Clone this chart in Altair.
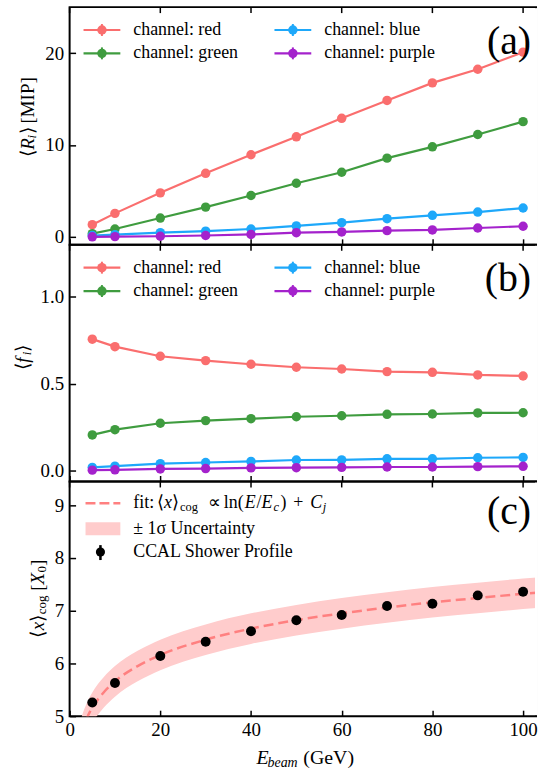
import altair as alt
import pandas as pd

# ---------------- data ----------------
E = [5, 10, 20, 30, 40, 50, 60, 70, 80, 90, 100]
channels = ["red", "green", "blue", "purple"]
channel_colors = ["#fa6e6e", "#3f9c3f", "#1ea8fa", "#a422cc"]

R_red = [1.33, 2.56, 4.79, 6.92, 8.94, 10.89, 12.90, 14.85, 16.76, 18.24, 20.10]
R_green = [0.35, 0.86, 2.05, 3.24, 4.50, 5.84, 7.03, 8.57, 9.80, 11.14, 12.54]
R_blue = [0.15, 0.25, 0.46, 0.62, 0.86, 1.19, 1.55, 1.98, 2.35, 2.70, 3.14]
R_purple = [0.01, 0.03, 0.07, 0.15, 0.27, 0.46, 0.54, 0.68, 0.76, 0.97, 1.16]

f_red = [0.756, 0.713, 0.658, 0.633, 0.612, 0.595, 0.585, 0.570, 0.566, 0.551, 0.545]
f_green = [0.207, 0.237, 0.274, 0.289, 0.300, 0.311, 0.317, 0.325, 0.327, 0.333, 0.334]
f_blue = [0.021, 0.028, 0.042, 0.049, 0.055, 0.063, 0.064, 0.070, 0.070, 0.076, 0.078]
f_purple = [0.005, 0.007, 0.012, 0.014, 0.018, 0.019, 0.021, 0.023, 0.023, 0.025, 0.027]

ccal = [5.26, 5.63, 6.14, 6.41, 6.61, 6.82, 6.92, 7.09, 7.13, 7.29, 7.36]

fit_E = [2.5, 3, 4, 5, 7.5, 10, 15, 20, 30, 40, 50, 60, 70, 80, 90, 100, 103]
fit_mid = [4.66, 4.79, 5.00, 5.16, 5.45, 5.66, 5.95, 6.16, 6.45, 6.66, 6.82, 6.95, 7.06, 7.16, 7.24, 7.32, 7.34]
fit_hi = [4.95, 5.08, 5.29, 5.45, 5.74, 5.95, 6.24, 6.45, 6.74, 6.95, 7.11, 7.24, 7.35, 7.45, 7.53, 7.61, 7.63]
fit_lo = [4.37, 4.50, 4.71, 4.87, 5.16, 5.37, 5.66, 5.87, 6.16, 6.37, 6.53, 6.66, 6.77, 6.87, 6.95, 7.03, 7.05]

x_ticks = [0, 20, 40, 60, 80, 100]
ya_ticks = [0, 10, 20]
yb_ticks = [0.0, 0.5, 1.0]
yc_ticks = [5, 6, 7, 8, 9]

# ---------------- styling ----------------
FONT = "Liberation Serif"
W = 469
H_A, H_B, H_C = 239, 238, 236
FIT_COLOR = "#ff8080"
BAND_COLOR = "#ffcccc"
LEG = 18
TICK = dict(ticks=True, tickSize=6, offset=-6, tickColor="black", tickWidth=1.5, domain=False,
            grid=False, labelFlush=False)

xs = alt.Scale(domain=[0, 102.85], nice=False, zero=False)
ysa = alt.Scale(domain=[-0.86, 25.0], nice=False, zero=False)
ysb = alt.Scale(domain=[-0.06, 1.297], nice=False, zero=False)
ysc = alt.Scale(domain=[5.0, 9.45], nice=False, zero=False)

color = alt.Color("channel:N", scale=alt.Scale(domain=channels, range=channel_colors), legend=None)


def one(label=""):
    return alt.Chart(pd.DataFrame({"s": [label]}))


def txt(s, x, y, size=19, style="normal", align="left", angle=0, baseline="middle"):
    return one(s).mark_text(align=align, baseline=baseline, font=FONT, fontSize=size,
                            fontStyle=style, angle=angle, color="black").encode(
        x=alt.value(x), y=alt.value(y), text="s:N")


def xaxis_bottom(labels):
    if labels:
        return alt.Axis(orient="bottom", values=x_ticks, format="d", title=None, labelPadding=4, **TICK)
    return alt.Axis(orient="bottom", values=x_ticks, labels=False, title=None, **TICK)


def yaxis(vals, fmt):
    return alt.Axis(orient="left", values=vals, format=fmt, title=None, labelPadding=6, **TICK)


def frame_extras(h):
    top_ticks = alt.Chart(pd.DataFrame({"t": x_ticks})).mark_rule(color="black", strokeWidth=1.5).encode(
        x=alt.X("t:Q", scale=xs), y=alt.value(0), y2=alt.value(6))
    cover = one().mark_rule(color="white", strokeWidth=2).encode(
        x=alt.value(W), y=alt.value(1), y2=alt.value(h - 1))
    return [top_ticks, cover]


# invisible layout anchor: fixes the plot origin at (69, 4) of the page
anchor = one().mark_rule(strokeWidth=0, opacity=0, color="white").encode(
    x=alt.value(-69), x2=alt.value(-60), y=alt.value(-4))


def legend_entry(label, col, x0, y):
    base = one(label)
    line = base.mark_rule(color=col, strokeWidth=2.2).encode(x=alt.value(x0), x2=alt.value(x0 + 37), y=alt.value(y))
    err = base.mark_rule(color=col, strokeWidth=2).encode(x=alt.value(x0 + 18.5), y=alt.value(y - 6), y2=alt.value(y + 6))
    dot = base.mark_circle(color=col, size=90, opacity=1).encode(x=alt.value(x0 + 18.5), y=alt.value(y))
    t = base.mark_text(align="left", baseline="middle", font=FONT, fontSize=LEG, color="black").encode(
        x=alt.value(x0 + 50), y=alt.value(y), text="s:N")
    return [line, err, dot, t]


def channel_legend():
    layers = []
    pos = [(14, 23), (14, 46.5), (206, 23), (206, 46.5)]
    for ch, c, (x0, y) in zip(channels, channel_colors, pos):
        layers += legend_entry("channel: " + ch, c, x0, y)
    return layers


def long_df(series, name):
    rows = []
    for ch, vals in zip(channels, series):
        for e, v in zip(E, vals):
            rows.append({"E": e, "channel": ch, name: v})
    return pd.DataFrame(rows)


# ---------------- panel (a) ----------------
dfa = long_df([R_red, R_green, R_blue, R_purple], "R")
lines_a = alt.Chart(dfa).mark_line(strokeWidth=2.2).encode(
    x=alt.X("E:Q", scale=xs, axis=xaxis_bottom(False)),
    y=alt.Y("R:Q", scale=ysa, axis=yaxis(ya_ticks, "d")),
    color=color)
pts_a = alt.Chart(dfa).mark_circle(size=90, opacity=1).encode(
    x=alt.X("E:Q", scale=xs), y=alt.Y("R:Q", scale=ysa), color=color)
title_a = [
    txt("⟨", -42, 151, angle=270),
    txt("R", -42, 143.5, style="italic", angle=270),
    txt("i", -38, 132, size=13, style="italic", angle=270),
    txt("⟩", -42, 128, angle=270),
    txt("[MIP]", -42, 117, angle=270),
]
panel_a = alt.layer(lines_a, pts_a, *frame_extras(H_A), anchor, *channel_legend(), *title_a,
                    txt("(a)", 464, 35, size=40, align="right")).properties(width=W, height=H_A)

# ---------------- panel (b) ----------------
dfb = long_df([f_red, f_green, f_blue, f_purple], "f")
lines_b = alt.Chart(dfb).mark_line(strokeWidth=2.2).encode(
    x=alt.X("E:Q", scale=xs, axis=xaxis_bottom(False)),
    y=alt.Y("f:Q", scale=ysb, axis=yaxis(yb_ticks, ".1f")),
    color=color)
pts_b = alt.Chart(dfb).mark_circle(size=90, opacity=1).encode(
    x=alt.X("E:Q", scale=xs), y=alt.Y("f:Q", scale=ysb), color=color)
title_b = [
    txt("⟨", -47, 126, angle=270),
    txt("f", -47, 118.5, style="italic", angle=270),
    txt("i", -43, 111, size=13, style="italic", angle=270),
    txt("⟩", -47, 107.5, angle=270),
]
panel_b = alt.layer(lines_b, pts_b, *frame_extras(H_B), *channel_legend(), *title_b,
                    txt("(b)", 464, 34, size=40, align="right")).properties(width=W, height=H_B)

# ---------------- panel (c) ----------------
dff = pd.DataFrame({"E": fit_E, "mid": fit_mid, "hi": fit_hi, "lo": fit_lo})
dfc = pd.DataFrame({"E": E, "x": ccal})
band = alt.Chart(dff).mark_area(color=BAND_COLOR, opacity=1, clip=True, interpolate="monotone").encode(
    x=alt.X("E:Q", scale=xs, axis=xaxis_bottom(True)),
    y=alt.Y("lo:Q", scale=ysc, axis=yaxis(yc_ticks, "d")),
    y2="hi:Q")
fit_line = alt.Chart(dff).mark_line(color=FIT_COLOR, strokeWidth=2.5, strokeDash=[10, 5], clip=True,
                                    interpolate="monotone").encode(
    x=alt.X("E:Q", scale=xs), y=alt.Y("mid:Q", scale=ysc))
pts_c = alt.Chart(dfc).mark_circle(size=100, opacity=1, color="black").encode(
    x=alt.X("E:Q", scale=xs), y=alt.Y("x:Q", scale=ysc))

leg_c = [
    one().mark_rule(color=FIT_COLOR, strokeWidth=2.5, strokeDash=[10, 4]).encode(
        x=alt.value(16), x2=alt.value(51), y=alt.value(22)),
    one().mark_rect(color=BAND_COLOR, opacity=1).encode(
        x=alt.value(16), x2=alt.value(51), y=alt.value(41), y2=alt.value(54)),
    one().mark_rule(color="black", strokeWidth=2.5).encode(
        x=alt.value(31), y=alt.value(64), y2=alt.value(79)),
    one().mark_circle(color="black", size=85, opacity=1).encode(x=alt.value(31), y=alt.value(71)),
    txt("± 1σ Uncertainty", 64, 47.5, size=LEG),
    txt("CCAL Shower Profile", 64, 71, size=LEG),
]
fit_pieces = [
    ("fit:", 64, 22, LEG, "normal"),
    ("⟨", 88, 22, LEG, "normal"),
    ("x", 95, 22, LEG, "italic"),
    ("⟩", 103, 22, LEG, "normal"),
    ("cog", 111, 26, 12.5, "normal"),
    ("∝", 139, 22, LEG, "normal"),
    ("ln(", 155, 22, LEG, "normal"),
    ("E", 176, 22, LEG, "italic"),
    ("/", 188, 22, LEG, "normal"),
    ("E", 193, 22, LEG, "italic"),
    ("c", 205, 26, 12.5, "italic"),
    (")", 212, 22, LEG, "normal"),
    ("+", 225, 22, LEG, "normal"),
    ("C", 242, 22, LEG, "italic"),
    ("j", 254.5, 26, 12.5, "italic"),
]
leg_c += [txt(s, x, y, size=sz, style=st) for s, x, y, sz, st in fit_pieces]

title_c = [
    txt("⟨", -32, 157, angle=270),
    txt("x", -32, 149.6, style="italic", angle=270),
    txt("⟩", -32, 141.2, angle=270),
    txt("cog", -28, 133.5, size=13, angle=270),
    txt("[", -32, 110, angle=270),
    txt("X", -32, 103.7, style="italic", angle=270),
    txt("0", -28, 91.6, size=13, angle=270),
    txt("]", -32, 85, angle=270),
]
xtitle = [
    txt("E", 188, 284, size=20, style="italic", baseline="alphabetic"),
    txt("beam", 199, 287, size=14, style="italic", baseline="alphabetic"),
    txt("(GeV)", 235, 284, size=20, baseline="alphabetic"),
]
panel_c = alt.layer(band, fit_line, pts_c, *frame_extras(H_C), *leg_c, *title_c, *xtitle,
                    txt("(c)", 464, 31, size=40, align="right")).properties(width=W, height=H_C)

chart = alt.vconcat(panel_a, panel_b, panel_c, spacing=0, bounds="flush").properties(
    padding={"left": 0, "top": 0, "right": 0, "bottom": 4}
).configure_view(stroke="black", strokeWidth=2).configure_axis(
    labelFont=FONT, labelFontSize=19, labelColor="black"
)

chart.save("out.html", embed_options={"renderer": "svg", "actions": False})
